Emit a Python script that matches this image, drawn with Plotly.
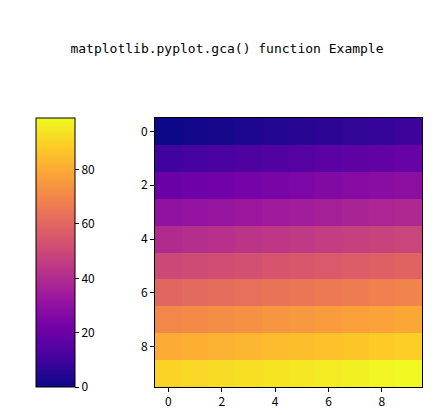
import plotly.graph_objects as go

# 10x10 grid values (row r, column c -> 10*r + c)
row0 = [0, 1, 2, 3, 4, 5, 6, 7, 8, 9]
row1 = [10, 11, 12, 13, 14, 15, 16, 17, 18, 19]
row2 = [20, 21, 22, 23, 24, 25, 26, 27, 28, 29]
row3 = [30, 31, 32, 33, 34, 35, 36, 37, 38, 39]
row4 = [40, 41, 42, 43, 44, 45, 46, 47, 48, 49]
row5 = [50, 51, 52, 53, 54, 55, 56, 57, 58, 59]
row6 = [60, 61, 62, 63, 64, 65, 66, 67, 68, 69]
row7 = [70, 71, 72, 73, 74, 75, 76, 77, 78, 79]
row8 = [80, 81, 82, 83, 84, 85, 86, 87, 88, 89]
row9 = [90, 91, 92, 93, 94, 95, 96, 97, 98, 99]
grid = [row0, row1, row2, row3, row4, row5, row6, row7, row8, row9]
tick_vals = [0, 2, 4, 6, 8]
cbar_ticks = [0, 20, 40, 60, 80]

W, H = 438, 415
font = dict(family="Noto Sans CJK SC, DejaVu Sans", size=12, color="black")

fig = go.Figure(go.Heatmap(
    z=grid, colorscale="Plasma", zmin=0, zmax=99,
    colorbar=dict(
        x=28 / W, xanchor="left", xpad=0, ypad=0,
        thickness=39, thicknessmode="pixels",
        y=36 / H, yanchor="bottom", len=(379 - 110) / H, lenmode="fraction",
        outlinecolor="black", outlinewidth=1,
        tickvals=cbar_ticks, ticks="outside", ticklen=4, tickcolor="black",
        tickfont=font,
    ),
))

fig.update_layout(
    width=W, height=H, margin=dict(l=0, r=0, t=0, b=0, autoexpand=False),
    paper_bgcolor="white", plot_bgcolor="white",
    title=dict(text="matplotlib.pyplot.gca() function Example",
               x=0.5, xanchor="center", y=1 - 40 / H, yanchor="middle",
               font=dict(family="DejaVu Sans Mono", size=13, color="black")),
    xaxis=dict(domain=[147 / W, 414 / W], tickvals=tick_vals, ticks="outside",
               ticklen=4, tickcolor="black", showline=True, linecolor="black",
               mirror=True, showgrid=False, zeroline=False, tickfont=font),
    yaxis=dict(domain=[36 / H, 305 / H], tickvals=tick_vals, ticks="outside",
               ticklen=4, tickcolor="black", showline=True, linecolor="black",
               mirror=True, showgrid=False, zeroline=False, autorange="reversed",
               tickfont=font),
)

fig.write_html("out.html")
